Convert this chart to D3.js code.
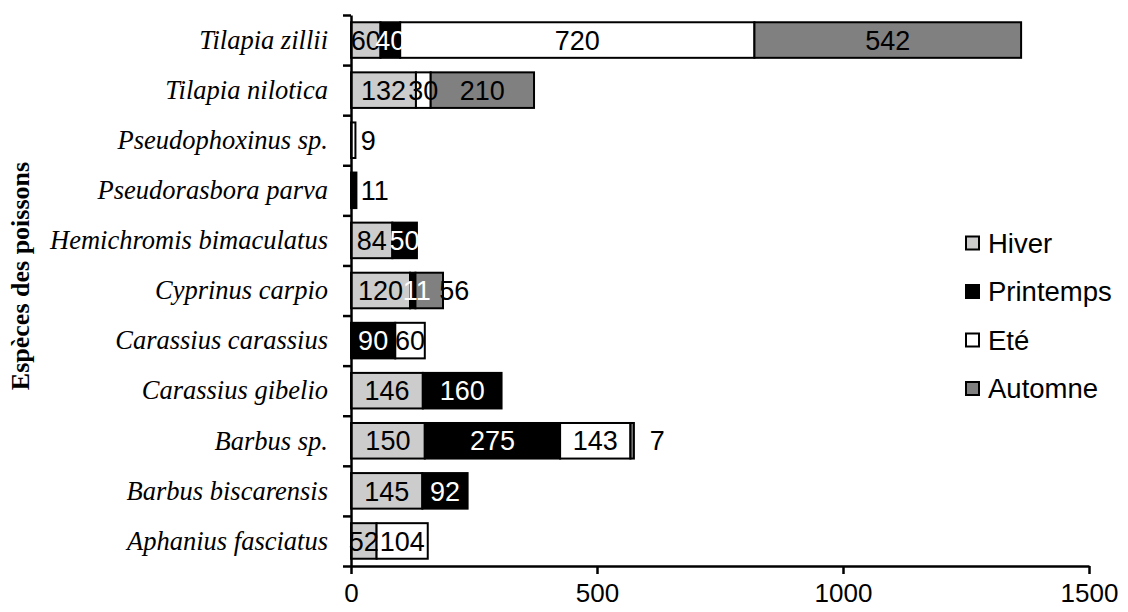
<!DOCTYPE html>
<html><head><meta charset="utf-8">
<script src="https://cdn.jsdelivr.net/npm/d3@7"></script>
<style>html,body{margin:0;padding:0;background:#fff;overflow:hidden}svg{display:block}</style>
</head><body><svg id="c" width="1128" height="612"></svg>
<script>
const categories = ["Tilapia zillii","Tilapia nilotica","Pseudophoxinus sp.","Pseudorasbora parva","Hemichromis bimaculatus","Cyprinus carpio","Carassius carassius","Carassius gibelio","Barbus sp.","Barbus biscarensis","Aphanius fasciatus"];
const seriesNames = ["Hiver","Printemps","Eté","Automne"];
const hiver     = [60,132,0,0,84,120,0,146,150,145,52];
const printemps = [40,0,0,11,50,11,90,160,275,92,0];
const ete       = [720,30,9,0,0,0,60,0,143,0,104];
const automne   = [542,210,0,0,0,56,0,0,7,0,0];
const xTicks = [0,500,1000,1500];
const yTitle = "Espèces des poissons";

const fills = {"Hiver":"#cccccc","Printemps":"#000000","Eté":"#ffffff","Automne":"#808080"};
const textCol = {"Hiver":"#000","Printemps":"#fff","Eté":"#000","Automne":"#000"};
// manual label shifts (px) for labels moved outside their small segment
const nudge = {"Pseudophoxinus sp.|Eté":15,"Pseudorasbora parva|Printemps":21,"Barbus sp.|Automne":25,"Cyprinus carpio|Automne":25,"Cyprinus carpio|Printemps":4};
const outside = {"Pseudophoxinus sp.|Eté":1,"Pseudorasbora parva|Printemps":1,"Barbus sp.|Automne":1,"Cyprinus carpio|Automne":1};

const rows = categories.map((c,i)=>({cat:c,"Hiver":hiver[i],"Printemps":printemps[i],"Eté":ete[i],"Automne":automne[i]}));
const stacked = d3.stack().keys(seriesNames)(rows);

const svg = d3.select("#c");
const x = d3.scaleLinear().domain([0,1500]).range([351,1089]);
const y = d3.scaleBand().domain(categories).range([15,566]).paddingInner(0.29).paddingOuter(0.145);

const g = svg.append("g");
stacked.forEach(s=>{
  g.append("g").selectAll("rect").data(s.filter(d=>d[1]-d[0]>0)).join("rect")
    .attr("x",d=>x(d[0])).attr("y",d=>y(d.data.cat))
    .attr("width",d=>x(d[1])-x(d[0])).attr("height",y.bandwidth())
    .attr("fill",fills[s.key]).attr("stroke","#000").attr("stroke-width",2);
});
stacked.forEach(s=>{
  g.append("g").selectAll("text").data(s.filter(d=>d[1]-d[0]>0)).join("text")
    .attr("x",d=>(x(d[0])+x(d[1]))/2 + (nudge[d.data.cat+"|"+s.key]||0))
    .attr("y",d=>y(d.data.cat)+y.bandwidth()/2)
    .attr("dy","0.36em").attr("text-anchor","middle")
    .attr("font-family","Liberation Sans, Arial, sans-serif").attr("font-size",27)
    .attr("fill",d=>outside[d.data.cat+"|"+s.key]?"#000":textCol[s.key]).text(d=>d[1]-d[0]);
});

// axes
const xAxis = svg.append("g").attr("transform","translate(0,566)")
  .call(d3.axisBottom(x).tickValues(xTicks).tickSize(8).tickSizeOuter(0).tickFormat(d3.format("d")));
xAxis.select(".domain").attr("stroke","#000").attr("stroke-width",2.5);
xAxis.selectAll(".tick line").attr("stroke","#000").attr("stroke-width",2.5);
xAxis.selectAll("text").attr("dy",null).attr("y",36)
  .attr("font-family","Liberation Sans, Arial, sans-serif").attr("font-size",26).attr("fill","#000");

const yAxisScale = d3.scaleLinear().domain([0,categories.length]).range([15,566]);
const yAxis = svg.append("g").attr("transform","translate(351,0)")
  .call(d3.axisLeft(yAxisScale).tickValues(d3.range(0,categories.length+1)).tickSize(8).tickSizeOuter(0).tickFormat(""));
yAxis.select(".domain").attr("stroke","#000").attr("stroke-width",2.5);
yAxis.selectAll(".tick line").attr("stroke","#000").attr("stroke-width",2.5);

svg.append("g").selectAll("text").data(categories).join("text")
  .attr("x",328).attr("y",d=>y(d)+y.bandwidth()/2).attr("dy","0.33em")
  .attr("text-anchor","end").attr("font-family","Liberation Serif, Times New Roman, serif")
  .attr("font-style","italic").attr("font-size",26.5).text(d=>d);

svg.append("text").attr("transform","translate(29,276) rotate(-90)")
  .attr("text-anchor","middle").attr("font-family","Liberation Serif, Times New Roman, serif")
  .attr("font-weight","bold").attr("font-size",26).text(yTitle);

// legend
const lg = svg.append("g").selectAll("g").data(seriesNames).join("g")
  .attr("transform",(d,i)=>`translate(966,${243+i*48.5})`);
lg.append("rect").attr("x",0).attr("y",-6.5).attr("width",13).attr("height",13)
  .attr("fill",d=>fills[d]).attr("stroke","#000").attr("stroke-width",2);
lg.append("text").attr("x",22).attr("y",0).attr("dy","0.36em")
  .attr("font-family","Liberation Sans, Arial, sans-serif").attr("font-size",27.5).text(d=>d);
</script></body></html>
